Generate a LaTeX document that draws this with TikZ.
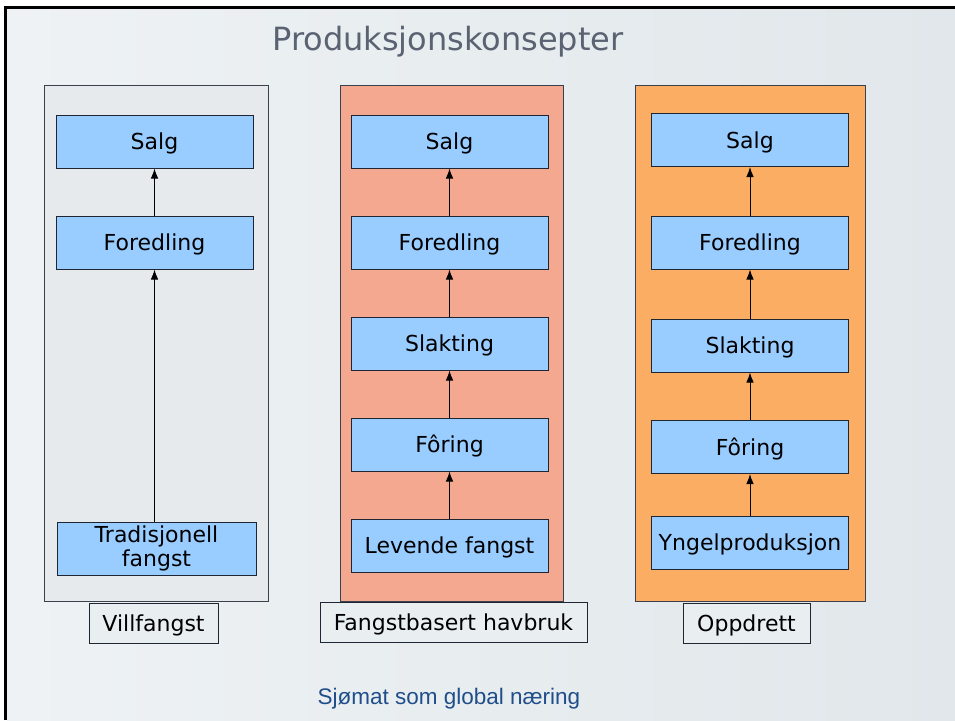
\documentclass[tikz,border=0pt]{standalone}
\usepackage{fontspec}
\setmainfont{DejaVu Sans}
\newfontfamily\arialfont{Liberation Sans}
\usetikzlibrary{arrows.meta,shadings}
\definecolor{bgA}{HTML}{EEF2F5}
\definecolor{bgB}{HTML}{E1E7EA}
\definecolor{boxblue}{HTML}{99CCFF}
\definecolor{edgedark}{HTML}{1E2533}
\definecolor{panelgray}{HTML}{E6EAED}
\definecolor{panelsalmon}{HTML}{F4A88F}
\definecolor{panelorange}{HTML}{FBAE63}
\definecolor{panelline}{HTML}{3A404C}
\definecolor{titlegray}{HTML}{5B6272}
\definecolor{footblue}{HTML}{1F4E8A}
\definecolor{labelfill}{HTML}{E9EEF1}
\tikzset{
  panel/.style={draw=panelline, line width=1pt, rectangle, inner sep=0pt, anchor=north west},
  stage/.style={draw=edgedark, line width=1pt, fill=boxblue, rectangle, minimum width=197pt,
    minimum height=53pt, inner sep=0pt, font=\fontsize{22}{25}\selectfont, text=black, align=center,
    text height=18pt, text depth=2pt},
  tag/.style={draw=edgedark, line width=1pt, fill=labelfill, rectangle, minimum height=40pt,
    inner sep=0pt, font=\fontsize{22}{25}\selectfont, text=black, text height=18pt, text depth=2pt},
  flow/.style={draw=black, line width=0.9pt, -{Latex[length=10pt,width=7.5pt]}}
}
\begin{document}
\begin{tikzpicture}[x=1pt,y=-1pt]
\useasboundingbox (0,0) rectangle (955,720);
\fill[white] (0,0) rectangle (955,720);
\shade[left color=bgA, right color=bgB] (7,9) rectangle (955,720);
\draw[black, line width=3pt] (5.5,720) -- (5.5,7.5) -- (955,7.5);

% title
\node[font=\fontsize{32}{36}\selectfont, text=titlegray] (title) at (448,42) {Produksjonskonsepter};

% panels
\node[panel, fill=panelgray, minimum width=224pt, minimum height=516pt] (p1) at (44,85) {};
\node[panel, fill=panelsalmon, minimum width=223pt, minimum height=516pt] (p2) at (340,85) {};
\node[panel, fill=panelorange, minimum width=230pt, minimum height=516pt] (p3) at (635,85) {};

% left column
\node[stage] (a1) at (154.5,141.5) {Salg};
\node[stage] (a2) at (154.5,242.5) {Foredling};
\node[stage, minimum width=199pt, text height=, text depth=] (a3) at (156.5,548.5) {Tradisjonell\\[-1pt]fangst};
\draw[flow] (a2.north) -- (a1.south);
\draw[flow] (a3.north -| a2.south) -- (a2.south);

% middle column
\node[stage] (b1) at (449.5,141.5) {Salg};
\node[stage] (b2) at (449.5,242.5) {Foredling};
\node[stage] (b3) at (449.5,343.5) {Slakting};
\node[stage] (b4) at (449.5,444.5) {Fôring};
\node[stage] (b5) at (449.5,545.5) {Levende fangst};
\draw[flow] (b2.north) -- (b1.south);
\draw[flow] (b3.north) -- (b2.south);
\draw[flow] (b4.north) -- (b3.south);
\draw[flow] (b5.north) -- (b4.south);

% right column
\node[stage] (c1) at (750,140) {Salg};
\node[stage] (c2) at (750,242.5) {Foredling};
\node[stage] (c3) at (750,345.5) {Slakting};
\node[stage] (c4) at (750,447) {Fôring};
\node[stage] (c5) at (750,542.5) {Yngelproduksjon};
\draw[flow] (c2.north) -- (c1.south);
\draw[flow] (c3.north) -- (c2.south);
\draw[flow] (c4.north) -- (c3.south);
\draw[flow] (c5.north) -- (c4.south);

% labels
\node[tag, minimum width=129pt] (l1) at (153.5,623) {Villfangst};
\node[tag, minimum width=267pt] (l2) at (453.5,622.5) {Fangstbasert havbruk};
\node[tag, minimum width=127pt] (l3) at (746.5,623) {Oppdrett};

% footer
\node[font=\arialfont\fontsize{22.5}{26}\selectfont, text=footblue] (foot) at (449,699) {Sjømat som global næring};
\end{tikzpicture}
\end{document}
